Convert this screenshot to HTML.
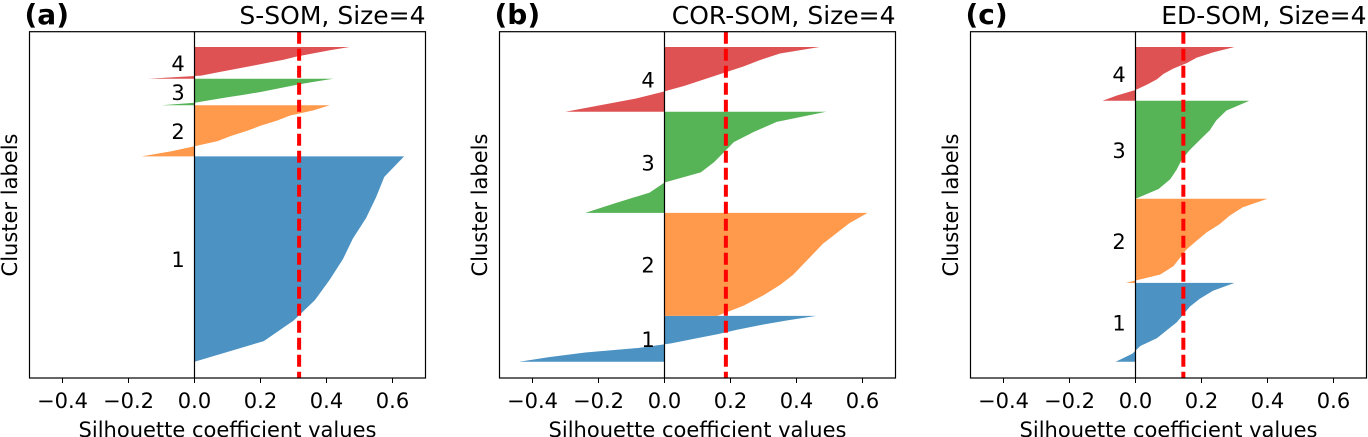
<!DOCTYPE html>
<html><head><meta charset="utf-8"><style>
html,body{margin:0;padding:0;background:#fff;}
svg{display:block;font-family:"DejaVu Sans","Liberation Sans",sans-serif;}
</style></head><body>
<svg id="fig" width="1368" height="437" viewBox="0 0 1368 437"></svg>
<script>
// x ticks shared
const xTicks = [-0.4, -0.2, 0.0, 0.2, 0.4, 0.6];
const xTickLabels = ["\u22120.4", "\u22120.2", "0.0", "0.2", "0.4", "0.6"];
const clusterNames = ["1", "2", "3", "4"];
const panelLetters = ["(a)", "(b)", "(c)"];
const panelTitles = ["S-SOM, Size=4", "COR-SOM, Size=4", "ED-SOM, Size=4"];
const averages = [0.317, 0.186, 0.145];
// cluster sizes (sample counts, bottom to top)
const sizesA = [205, 51, 26.5, 31.7];
const sizesB = [45.7, 103, 101, 64.7];
const sizesC = [78.7, 84, 98, 53.7];
// sorted silhouette profiles (11 quantiles, bottom -> top of each cluster)
const silA1 = [0.0, 0.21, 0.30, 0.365, 0.41, 0.45, 0.48, 0.52, 0.55, 0.575, 0.635];
const silA2 = [-0.16, -0.07, 0.0, 0.07, 0.11, 0.16, 0.20, 0.25, 0.29, 0.36, 0.41];
const silA3 = [-0.1, 0.0, 0.05, 0.1, 0.15, 0.2, 0.24, 0.28, 0.32, 0.37, 0.42];
const silA4 = [-0.14, 0.02, 0.07, 0.12, 0.17, 0.22, 0.27, 0.31, 0.36, 0.41, 0.47];
const silB1 = [-0.44, -0.35, -0.24, -0.08, 0.02, 0.09, 0.16, 0.22, 0.29, 0.37, 0.46];
const silB2 = [0.16, 0.24, 0.30, 0.35, 0.39, 0.42, 0.45, 0.48, 0.52, 0.56, 0.615];
const silB3 = [-0.24, -0.145, -0.045, 0.0, 0.11, 0.15, 0.18, 0.21, 0.27, 0.34, 0.49];
const silB4 = [-0.30, -0.195, -0.09, -0.01, 0.06, 0.12, 0.18, 0.24, 0.29, 0.35, 0.47];
const silC1 = [-0.06, -0.01, 0.015, 0.065, 0.095, 0.125, 0.145, 0.165, 0.195, 0.235, 0.30];
const silC2 = [-0.03, 0.075, 0.115, 0.135, 0.155, 0.185, 0.215, 0.255, 0.285, 0.325, 0.40];
const silC3 = [0.0, 0.07, 0.105, 0.125, 0.14, 0.165, 0.195, 0.225, 0.245, 0.275, 0.345];
const silC4 = [-0.10, -0.055, 0.0, 0.035, 0.065, 0.085, 0.115, 0.155, 0.185, 0.235, 0.30];

const NS = "http://www.w3.org/2000/svg";
const svg = document.getElementById("fig");
const colors = ["#4c92c3", "#ff994b", "#56b356", "#de5253"];
function mk(tag, attrs, parent) {
  const e = document.createElementNS(NS, tag);
  for (const k in attrs) e.setAttribute(k, attrs[k]);
  (parent || svg).appendChild(e);
  return e;
}
const panels = [
  {left: 29.5, sizes: sizesA, sil: [silA1, silA2, silA3, silA4]},
  {left: 499.5, sizes: sizesB, sil: [silB1, silB2, silB3, silB4]},
  {left: 970.5, sizes: sizesC, sil: [silC1, silC2, silC3, silC4]}
];
const TOP = 31.7, BOT = 378, W = 396, XMIN = -0.5, XMAX = 0.7;
const YPAD_B = 16.3, YPAD_T = 15.3;

panels.forEach((p, pi) => {
  const g = mk("g", {});
  
  
  const total = p.sizes.reduce((a, b) => a + b, 0) + YPAD_B + YPAD_T;
  const xs = v => p.left + (v - XMIN) / (XMAX - XMIN) * W;
  const ys = u => BOT - u / total * (BOT - TOP);
  let yl = YPAD_B;
  p.sizes.forEach((n, ci) => {
    const vals = p.sil[ci];
    const pts = [[xs(0), ys(yl)]];
    vals.forEach((v, i) => {
      pts.push([xs(v), ys(yl + n * i / (vals.length - 1))]);
    });
    pts.push([xs(0), ys(yl + n)]);
    const poly = mk("polygon", {points: pts.map(q => q[0].toFixed(1) + "," + q[1].toFixed(1)).join(" "), fill: colors[ci]}, g);
    
    
    const t = mk("text", {x: xs(-0.05), y: ys(yl + n / 2) + 8, "text-anchor": "middle", "font-size": "21", fill: "#000"}, g);
    t.textContent = clusterNames[ci];
    
    
    yl += n;
  });
  const z = mk("line", {x1: xs(0), x2: xs(0), y1: TOP, y2: BOT, stroke: "#000", "stroke-width": 1.2}, g);
  
  
  const av = mk("line", {x1: xs(averages[pi]), x2: xs(averages[pi]), y1: TOP, y2: BOT, stroke: "#ff0000", "stroke-width": 4, "stroke-dasharray": "12 5"}, g);
  
  
  const fr = mk("rect", {x: p.left, y: TOP, width: W, height: BOT - TOP, fill: "none", stroke: "#000", "stroke-width": 1.2}, g);
  
  
  xTicks.forEach((tv, ti) => {
    const tk = mk("line", {x1: xs(tv), x2: xs(tv), y1: BOT, y2: BOT + 5, stroke: "#000", "stroke-width": 1}, g);
    
    
    const tl = mk("text", {x: xs(tv), y: 408, "text-anchor": "middle", "font-size": "21", fill: "#000"}, g);
    tl.textContent = xTickLabels[ti];
    
    
  });
  const xl = mk("text", {x: p.left + W / 2, y: 437, "text-anchor": "middle", "font-size": "21", fill: "#000"}, g);
  xl.textContent = "Silhouette coefficient values";
  
  
  const yx = p.left - 12.5;
  const yt = mk("text", {x: yx, y: 205, "text-anchor": "middle", "font-size": "21", fill: "#000", transform: "rotate(-90 " + yx + " 205)"}, g);
  yt.textContent = "Cluster labels";
  
  
  const ti = mk("text", {x: p.left + W, y: 24, "text-anchor": "end", "font-size": "25", fill: "#000"}, g);
  ti.textContent = panelTitles[pi];
  
  
  const lt = mk("text", {x: p.left - 5, y: 24, "text-anchor": "start", "font-size": "28", "font-weight": "bold", fill: "#000"}, g);
  lt.textContent = panelLetters[pi];
  
  
});
</script>
</body></html>
